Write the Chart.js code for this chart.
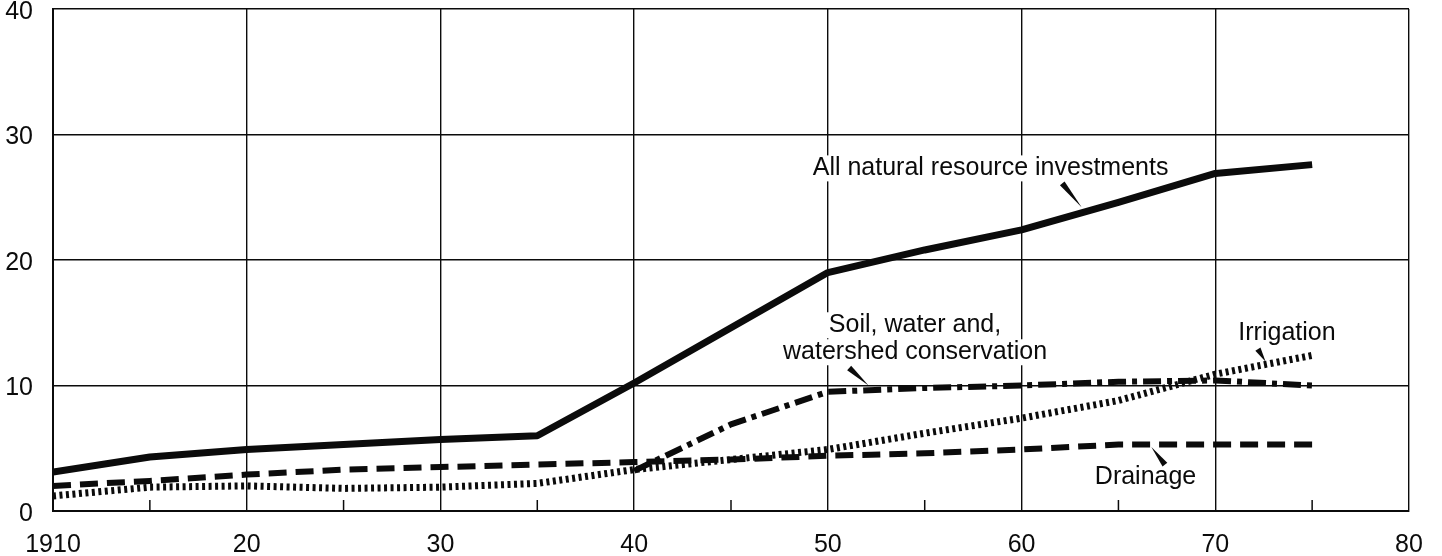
<!DOCTYPE html>
<html>
<head>
<meta charset="utf-8">
<script src="https://cdn.jsdelivr.net/npm/chart.js@4/dist/chart.umd.min.js"></script>
<style>
html, body { margin: 0; padding: 0; background: #fff; }
#wrap { width: 1442px; height: 556px; }
</style>
</head>
<body>
<div id="wrap"><canvas id="chart" width="1442" height="556"></canvas></div>
<script>
// values, billions (5-year steps)
var years = [1910, 1915, 1920, 1925, 1930, 1935, 1940, 1945, 1950, 1955, 1960, 1965, 1970, 1975];
var allResources = [3.1, 4.3, 4.9, 5.3, 5.7, 6.0, 10.2, 14.6, 19.0, 20.8, 22.4, 24.6, 26.9, 27.6];
var drainage = [2.0, 2.4, 2.9, 3.3, 3.5, 3.7, 3.9, 4.1, 4.4, 4.6, 4.9, 5.3, 5.3, 5.3];
var irrigation = [1.2, 1.9, 2.0, 1.8, 1.9, 2.2, 3.3, 4.1, 4.9, 6.2, 7.4, 8.8, 10.9, 12.4];
var soilWater = [null, null, null, null, null, null, 3.2, 6.9, 9.5, 9.8, 10.0, 10.3, 10.4, 10.0];

var xTickLabels = ['1910', '20', '30', '40', '50', '60', '70', '80'];
var yTickLabels = ['0', '10', '20', '30', '40'];
var minorTickYears = [1915, 1925, 1935, 1945, 1955, 1965, 1975];

var FONT = "'Liberation Sans', Arial, sans-serif";
var INK = '#0b0b0b';

function toPoints(values) {
    var pts = [];
    values.forEach(function (v, i) {
        if (v !== null) pts.push({ x: years[i], y: v });
    });
    return pts;
}

// text labels and their little wedge pointers, in data units
var notes = [
    { lines: ['All natural resource investments'], x: 1958.4, y: 27.3 },
    { lines: ['Soil, water and,', 'watershed conservation'], x: 1954.5, y: 14.8 },
    { lines: ['Irrigation'], x: 1973.7, y: 14.2 },
    { lines: ['Drainage'], x: 1966.4, y: 2.7 }
];
var pointers = [
    { from: [1962.1, 26.1], to: [1963.1, 24.2] },
    { from: [1951.1, 11.4], to: [1952.1, 10.0] },
    { from: [1972.2, 12.9], to: [1972.6, 11.9] },
    { from: [1967.4, 3.7], to: [1966.7, 5.1] }
];

var annotate = {
    id: 'annotate',
    afterDatasetsDraw: function (chart) {
        var ctx = chart.ctx,
            xs = chart.scales.x,
            ys = chart.scales.y;

        ctx.save();

        // minor ticks at the half decades
        ctx.strokeStyle = INK;
        ctx.lineWidth = 1.5;
        minorTickYears.forEach(function (yr) {
            var px = xs.getPixelForValue(yr);
            ctx.beginPath();
            ctx.moveTo(px, ys.bottom);
            ctx.lineTo(px, ys.bottom - 11);
            ctx.stroke();
        });

        ctx.font = '25px ' + FONT;
        ctx.textAlign = 'center';
        ctx.textBaseline = 'middle';
        notes.forEach(function (n) {
            var cx = xs.getPixelForValue(n.x),
                cy = ys.getPixelForValue(n.y);
            n.lines.forEach(function (line, i) {
                var w = ctx.measureText(line).width,
                    ly = cy + i * 27;
                ctx.fillStyle = '#fff';
                ctx.fillRect(cx - w / 2 - 3, ly - 13, w + 6, 26);
                ctx.fillStyle = INK;
                ctx.fillText(line, cx, ly);
            });
        });

        ctx.fillStyle = INK;
        pointers.forEach(function (p) {
            var x0 = xs.getPixelForValue(p.from[0]),
                y0 = ys.getPixelForValue(p.from[1]),
                x1 = xs.getPixelForValue(p.to[0]),
                y1 = ys.getPixelForValue(p.to[1]),
                dx = x1 - x0,
                dy = y1 - y0,
                len = Math.sqrt(dx * dx + dy * dy),
                nx = -dy / len * 3,
                ny = dx / len * 3;
            ctx.beginPath();
            ctx.moveTo(x0 + nx, y0 + ny);
            ctx.lineTo(x0 - nx, y0 - ny);
            ctx.lineTo(x1, y1);
            ctx.closePath();
            ctx.fill();
        });

        ctx.restore();
    }
};

Chart.defaults.font.family = FONT;
Chart.defaults.font.size = 25;
Chart.defaults.color = INK;

new Chart('chart', {
    type: 'line',
    data: {
        datasets: [
            {
                label: 'All natural resource investments',
                data: toPoints(allResources),
                borderColor: INK,
                borderWidth: 7,
                borderJoinStyle: 'round'
            },
            {
                label: 'Drainage',
                data: toPoints(drainage),
                borderColor: INK,
                borderWidth: 6,
                borderDash: [18, 9],
                borderCapStyle: 'butt'
            },
            {
                label: 'Irrigation',
                data: toPoints(irrigation),
                borderColor: INK,
                borderWidth: 7,
                borderDash: [3, 3.5],
                borderCapStyle: 'butt'
            },
            {
                label: 'Soil, water and watershed conservation',
                data: toPoints(soilWater),
                borderColor: INK,
                borderWidth: 6,
                borderDash: [18, 6, 5, 6],
                borderCapStyle: 'butt'
            }
        ]
    },
    options: {
        responsive: false,
        animation: false,
        devicePixelRatio: 1,
        elements: {
            point: { radius: 0 },
            line: { tension: 0, fill: false }
        },
        layout: {
            padding: { top: 9, right: 33, left: 0, bottom: 0 }
        },
        plugins: {
            legend: { display: false },
            tooltip: { enabled: false }
        },
        scales: {
            x: {
                type: 'linear',
                min: 1910,
                max: 1980,
                afterFit: function (scale) {
                    scale.height = 45;
                    scale.paddingLeft = 0;
                    scale.paddingRight = 0;
                },
                grid: { color: INK, lineWidth: 1.4, drawTicks: false },
                border: { color: INK, width: 2 },
                ticks: {
                    stepSize: 10,
                    autoSkip: false,
                    maxRotation: 0,
                    padding: 19,
                    callback: function (value, index) { return xTickLabels[index]; }
                }
            },
            y: {
                min: 0,
                max: 40,
                afterFit: function (scale) {
                    scale.width = 53;
                    scale.paddingTop = 0;
                    scale.paddingBottom = 0;
                },
                grid: { color: INK, lineWidth: 1.4, drawTicks: false },
                border: { color: INK, width: 2 },
                ticks: {
                    stepSize: 10,
                    padding: 20,
                    labelOffset: 3,
                    callback: function (value, index) { return yTickLabels[index]; }
                }
            }
        }
    },
    plugins: [annotate]
});
</script>
</body>
</html>
